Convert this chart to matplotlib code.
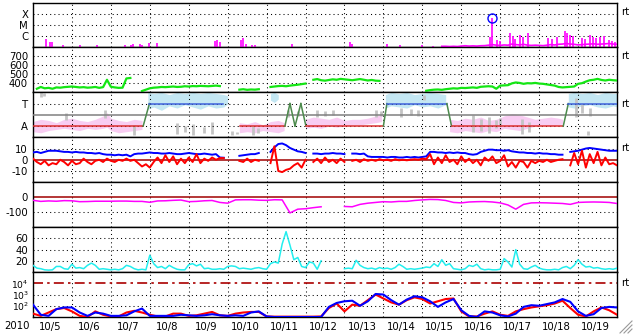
import numpy as np
import matplotlib
matplotlib.use("Agg")
import matplotlib.pyplot as plt
from matplotlib.lines import Line2D
from matplotlib.ticker import NullLocator
import matplotlib.transforms as mtransforms

nan = np.nan

# ---------------- data (time axis in days from left edge) ----------------
date_labels = ['10/5', '10/6', '10/7', '10/8', '10/9', '10/10', '10/11', '10/12',
               '10/13', '10/14', '10/15', '10/16', '10/17', '10/18', '10/19']
year_label = '2010'

# X-ray: isolated flare spikes (time, log10 flux) and background (log10 flux, 0.1 d)
flare_t = [0.33, 0.44, 0.49, 0.77, 1.21, 1.64, 2.36, 2.52, 2.57, 2.75, 2.80, 2.98, 3.19, 4.67, 4.73,
           4.80, 5.34, 5.39, 5.47, 5.63, 5.70, 6.65, 8.14, 8.19, 9.09, 9.43, 9.99, 10.27, 10.58, 11.74,
           11.79, 11.92, 12.0, 12.25, 12.33, 12.38, 12.51, 12.59, 12.72, 13.23, 13.33, 13.46, 13.67,
           13.72, 13.79, 13.87, 14.10, 14.18, 14.31, 14.38, 14.46, 14.56, 14.67, 14.80, 14.87, 14.95]
flare_log = [-6.24, -6.51, -6.51, -6.78, -6.78, -6.78, -6.78, -6.78, -6.69, -6.69, -6.74, -6.63, -6.6,
             -6.42, -6.33, -6.51, -6.33, -6.15, -6.69, -6.78, -6.78, -6.69, -6.51, -6.69, -6.69, -6.78,
             -6.78, -6.87, -6.87, -6.05, -4.42, -6.33, -6.42, -5.69, -5.96, -6.24, -5.87, -6.05, -5.69,
             -6.15, -6.24, -6.05, -5.51, -5.69, -5.87, -5.96, -6.15, -6.24, -5.87, -6.05, -6.15, -6.05,
             -5.96, -6.33, -6.42, -6.51]
flare_mark_t = [11.79]
flare_mark_log = [-4.42]
xray_bg_start = 9.9
xray_bg_log = [nan, -6.85, nan, nan, -6.88, nan, -6.9, -6.9, -6.92, -6.9, -6.92,
               -6.88, -6.85, -6.88, -6.86, -6.88, -6.85, -6.84, -6.8, -6.75, -6.8,
               -6.82, -6.78, -6.8, -6.7, -6.75, -6.78, -6.72, -6.8, -6.82, -6.8,
               -6.82, -6.84, -6.8, -6.75, -6.78, -6.72, -6.7, -6.65, -6.7, -6.72,
               -6.78, -6.75, -6.72, -6.7, -6.68, -6.72, -6.7, -6.68, -6.65, -6.7, -6.72]

# Solar wind speed (km/s), 0.1 d step
speed = [nan, 340, 360, 345, 350, 340, 355, 352, 358, 362,
         365, 360, 355, 358, 352, 355, 360, 350, 358, 440,
         362, 355, 350, 352, 455, 460, nan, nan, 315, 330,
         345, 352, 355, 360, 358, 362, 365, 360, 362, 368,
         365, 370, 368, 372, 370, 368, 372, 375, 370, nan,
         nan, nan, nan, 330, 335, 328, 332, 330, 335, nan,
         nan, 360, 365, 370, 372, 368, 375, 380, 385, 392,
         398, nan, 440, 448, 435, 430, 438, 445, 440, 450,
         445, 440, 435, 442, 448, 440, 432, 438, 430, 428,
         nan, nan, nan, nan, nan, nan, nan, nan, nan, nan,
         nan, 318, 325, 330, 332, 328, 335, 340, 345, 342,
         350, 348, 352, 355, 350, 362, 365, 368, 365, 340,
         375, 378, 380, 400, 410, 405, 395, 402, 400, 405,
         398, 395, 388, 382, 375, 360, 355, 358, 362, 365,
         395, 402, 420, 435, 440, 450, 438, 432, 440, 435,
         432]

# IMF sector (1 = Away, 3 = Toward)
sector_t = [0.0, 2.83, 2.99, 4.87, nan, 5.32, 6.47, 6.60, 6.73, 6.88, 7.01, 9.00, 9.09, 10.63,
            10.75, 13.62, 13.75, 15.0]
sector_v = [1, 1, 3, 3, nan, 1, 1, 3, 1, 3, 1, 1, 3, 3, 1, 1, 3, 3]

# phi angle scatter envelopes (panel units)
pink1_t = [0.0, 0.2, 0.4, 0.6, 0.8, 1.0, 1.2, 1.4, 1.6, 1.8, 1.9, 2.0, 2.2, 2.4, 2.6, 2.8]
pink1_lo = [0.5, 0.4, 0.6, 0.7, 0.8, 0.7, 0.6, 0.8, 0.7, 0.8, 0.9, 0.6, 0.4, 0.5, 0.6, 0.7]
pink1_hi = [1.4, 1.6, 1.5, 1.3, 1.6, 1.7, 1.5, 1.4, 1.6, 1.9, 2.2, 1.7, 1.5, 1.4, 1.6, 1.5]
pink2_t = [5.3, 5.5, 5.7, 5.9, 6.1, 6.3, 6.45]
pink2_lo = [0.4, 0.5, 0.4, 0.6, 0.5, 0.4, 0.6]
pink2_hi = [1.3, 1.2, 1.4, 1.1, 1.4, 1.5, 1.3]
pink3_t = [7.0, 7.2, 7.4, 7.6, 7.8, 8.0, 8.2, 8.4, 8.6, 8.8, 8.95]
pink3_lo = [0.8, 0.9, 0.8, 1.0, 0.9, 1.0, 1.1, 1.1, 1.2, 1.3, 1.4]
pink3_hi = [1.6, 1.8, 1.7, 1.6, 1.8, 1.5, 1.6, 1.6, 1.7, 1.9, 2.0]
pink4_t = [10.7, 10.9, 11.1, 11.3, 11.5, 11.7, 11.9, 12.1, 12.3, 12.5, 12.7, 12.9, 13.1, 13.3, 13.5, 13.6]
pink4_lo = [0.5, 0.4, 0.6, 0.5, 0.4, 0.6, 0.5, 0.8, 0.7, 0.6, 0.8, 1.0, 1.1, 1.0, 1.1, 1.2]
pink4_hi = [1.6, 1.5, 1.7, 1.6, 1.8, 1.5, 1.6, 1.9, 2.1, 2.0, 1.8, 1.6, 1.7, 1.8, 1.7, 1.6]
blue1_t = [2.95, 3.1, 3.3, 3.5, 3.7, 3.9, 4.1, 4.3, 4.5, 4.7, 4.9, 5.0]
blue1_lo = [2.5, 2.7, 2.4, 2.8, 2.6, 2.9, 2.7, 2.5, 2.8, 2.6, 2.7, 3.0]
blue1_hi = [4.0, 3.9, 4.0, 3.8, 4.0, 3.9, 4.0, 3.9, 4.0, 3.9, 3.8, 3.7]
blue2_t = [6.1, 6.2, 6.3]
blue2_lo = [3.3, 3.1, 3.4]
blue2_hi = [3.9, 4.0, 3.8]
blue3_t = [9.05, 9.2, 9.4, 9.6, 9.8, 10.0, 10.2, 10.4, 10.6]
blue3_lo = [2.6, 2.8, 2.7, 2.6, 2.9, 2.7, 2.8, 2.6, 2.9]
blue3_hi = [3.8, 4.0, 3.9, 4.0, 3.8, 3.9, 4.0, 3.9, 3.8]
blue4_t = [13.75, 13.9, 14.1, 14.3, 14.5, 14.7, 14.9, 15.0]
blue4_lo = [2.7, 2.6, 2.8, 2.9, 2.7, 2.6, 2.8, 2.7]
blue4_hi = [3.9, 4.0, 3.9, 4.0, 3.8, 4.0, 3.9, 3.9]
gray_t = [0.2, 0.28, 0.85, 1.85, 2.6, 3.7, 3.9, 4.1, 4.4, 4.6, 5.1, 5.25, 5.65, 5.78, 6.55, 6.8, 7.3,
          7.5, 7.7, 8.8, 8.95, 9.45, 9.7, 9.9, 10.05, 11.3, 11.5, 11.7, 11.9, 12.0, 12.55, 12.75,
          13.95, 14.1, 14.3, 14.25]
gray_lo = [3.6, 3.7, 1.5, 1.7, 0.2, 0.3, 0.5, 0.2, 0.4, 0.3, 0.2, 0.3, 0.2, 0.4, 1.8, 1.9, 1.8, 1.9,
           2.0, 1.8, 1.9, 1.8, 2.0, 1.9, 3.3, 0.5, 0.6, 0.4, 0.8, 1.0, 0.3, 0.5, 1.8, 2.2, 1.9, 0.2]
gray_hi = [4.0, 3.9, 2.2, 2.4, 1.1, 1.3, 1.0, 1.2, 0.9, 1.4, 0.6, 0.5, 1.0, 0.8, 2.4, 2.3, 2.4, 2.3,
           2.4, 2.4, 2.3, 2.6, 2.5, 2.4, 3.8, 2.0, 1.6, 1.8, 1.5, 1.7, 1.6, 1.4, 3.5, 3.0, 2.6, 0.6]

# IMF Bt and Bz (nT), 0.1 d step
bt = [6.5, 7, 6, 7, 8, 8, 8, 7.5, 7, 7,
      6.5, 7, 6.5, 6.5, 6, 6, 5.5, 6, 5, 4.5,
      4.5, 4, 4.5, 4, 4.5, 3, 5, 5.5, 5.5, 6,
      6.5, 6, 6, 5.5, 5.5, 6, 5.5, 5, 5, 5.5,
      6, 5.5, 5, 5, 5.5, 5, 4.5, 5, 2, 1.8,
      nan, nan, nan, 3.5, 4, 4.5, 5, 5, 6, nan,
      nan, 7, 11, 14, 14.5, 13, 10.5, 9, 7.5, 7,
      6, nan, 5.5, 5.5, 5, 5.5, 5.5, 6, 5.5, 5.5,
      5, nan, 5.5, 5.5, 5, 5.5, 3, 2.5, 2.5, 2.5,
      2.5, 2, 2.5, 2.5, 2, 2, 2.5, 2, 2.5, 2,
      2.5, 3, 7, 7, 6.5, 6.5, 6, 6.5, 6, 6.5,
      6, 6, 5, 4.5, 5, 7, 8, 9, 9, 8.5,
      8.5, 8, 8.5, 7.5, 7, 6.5, 6.5, 6, 6, 5.5,
      6, 5.5, 5.5, 5, 5, 4.5, 4.5, nan, 7, 7.5,
      8, 9, 10, 10.5, 10, 9.5, 9, 8.5, 8, 8,
      8]
bz = [1, -2, -4, -1, -5, -3, -4, 0, -2, -5,
      -1, -4, -3, 1, -2, -4, -1, 0, -2, 1,
      -1, -2, 0, -1, 1, -1, 0, -3, -6, -4,
      -7, -2, 2, -3, 4, -2, 3, -4, 1, -3,
      2, -2, 5, -3, 1, -1, 2, 0, 1.5, 1.5,
      nan, nan, nan, -1, -2, 1, -2, 0, -1, nan,
      nan, -3, 12, -10, -11, -9, -8, -5, -3, -7,
      0, nan, -2, 1, -3, 2, -2, 0, -3, 1,
      -2, nan, -1, 0, -2, 0.5, -1, 0, -1, 0.5,
      -0.5, 0, -1, 0.5, -0.5, 0, -0.5, 0, 0.5, 0,
      1, 0.5, 5, -4, 2, -3, 4, -2, 0, -4,
      3, -2, 1, -3, 0, -5, 2, -1, 3, -3,
      -1, 4, -6, -2, -7, -1, -2, -7, -1, -3,
      -1, -2, 0, -2, -1, 0, 0.5, nan, -5, 6,
      -4, 8, -7, 5, -3, 7, -5, 2, -4, -3,
      -5]

# Dst (nT), 0.2 d step
dst = [-21, -28, -25, -27, -23, -24, -30, -29, -27, -27,
       -27, -26, -26, -28, -28, -34, -25, -24, -21, -19,
       -30, -28, -24, -22, -35, -40, -18, -17, -17, -20,
       -21, -17, -18, -105, -80, -77, -70, -64, nan, nan,
       -62, -64, -48, -40, -35, -30, -32, -28, -28, -22,
       -18, -15, -16, -22, -35, -38, -32, -30, -29, -32,
       -38, -52, -80, -48, -38, -37, -38, -40, -42, -48,
       -35, -33, -32, -33, -35, -42]

# Proton density-like series (cyan), 0.1 d step
cyan = [12, 7, 6, 4, 3.5, 4, 10, 10, 6, 5,
        14, 7, 8, 6, 12, 16, 12, 5, 6, 5,
        4, 5, 4, 6, 12, 10, 6, 4, 5, 4,
        30, 15, 8, 10, 6, 12, 8, 5, 4, 4,
        13, 15, 11, 14, 6, 7, 5, 5, 6, 5,
        10, 11, 10, 6, 7, 6, 5, 7, 8, 6,
        5, 15, 18, 16, 50, 72, 48, 22, 26, 10,
        8, 18, 16, 5, 20, nan, nan, nan, nan, nan,
        6, 7, 6, 21, 12, 8, 6, 7, 5, 8,
        6, 7, 5, 8, 14, 10, 5, 6, 5, 6,
        7, 9, 8, 15, 10, 22, 12, 15, 6, 5,
        4, 6, 12, 10, 14, 6, 4, 5, 4, 4,
        5, 24, 18, 9, 40, 14, 6, 5, 9, 12,
        7, 5, 4, 4, 5, 4, 8, 10, 6, 12,
        22, 14, 9, 10, 7, 8, 6, 5, 6, 5,
        7]

# Electron flux, log10, 0.2 d step (two satellites)
elec_red_log = [1.3, 1.1, 1.4, 1.7, 1.8, 1.5, 1.1, 1.0, 1.5, 1.2,
                1.05, 1.05, 1.4, 1.55, 1.4, 1.2, 1.05, 1.05, 1.3, 1.3,
                1.1, 1.15, 1.3, 1.45, 1.15, 1.1, 1.3, 1.4, 1.45, 1.45,
                1.05, 1.03, 1.03, 1.03, 1.03, 1.03, 1.03, 1.05, 1.8, 2.2,
                1.5, 2.1, 2.0, 2.5, 3.0, 2.65, 2.3, 2.1, 2.5, 2.75,
                2.6, 2.2, 2.4, 2.6, 2.65, 1.5, 1.05, 1.05, 1.3, 1.5,
                1.2, 1.1, 1.5, 1.7, 1.85, 1.95, 2.05, 2.2, 2.45, 1.8,
                1.2, 1.05, 1.5, 1.85, 1.6, 1.2]
elec_blue_log = [2.1, 1.2, 1.1, 1.7, 1.85, 1.85, 1.4, 1.1, 1.4, 1.3,
                 1.1, 1.1, 1.15, 1.5, 1.75, 1.1, 1.1, 1.1, 1.1, 1.2,
                 1.15, 1.1, 1.15, 1.25, 1.15, 1.1, 1.15, 1.1, 1.4, 1.5,
                 1.05, 1.0, 1.0, 1.0, 1.0, 1.0, 1.0, 1.0, 1.9, 2.25,
                 2.4, 2.45, 2.0, 2.4, 3.05, 3.0, 2.5, 2.1, 2.55, 2.85,
                 2.75, 2.4, 1.9, 2.3, 2.6, 1.6, 1.1, 1.0, 1.5, 1.4,
                 1.15, 1.05, 1.3, 1.9, 2.05, 2.0, 2.15, 2.3, 2.6, 2.35,
                 1.5, 1.1, 1.25, 1.8, 1.9, 1.85]
elec_alert = 1e4

# ---------------- figure ----------------
W, H = 633, 334
plt.rcParams['font.family'] = ['DejaVu Sans']
FS = 7.3
fig = plt.figure(figsize=(W / 100, H / 100), dpi=100)
fig.patch.set_facecolor('white')

LEFT, RIGHT, TOP, BOT = 33, 617, 2.5, 317
ph = (BOT - TOP) / 7
DOT = (0, (1, 3))

axes = []
for k in range(7):
    y0 = TOP + k * ph
    ax = fig.add_axes([LEFT / W, 1 - (y0 + ph) / H, (RIGHT - LEFT) / W, ph / H])
    ax.set_xlim(0, 15)
    ax.set_xticks([])
    for s in ax.spines.values():
        s.set_linewidth(1.0)
        s.set_color('black')
    ax.tick_params(axis='y', length=0, pad=3.5, labelsize=FS)
    for d in range(1, 15):
        ax.axvline(d, color='black', lw=0.75, ls=DOT, zorder=2)
    axes.append(ax)

def hgrid(ax, levels):
    for v in levels:
        ax.axhline(v, color='black', lw=0.75, ls=DOT, zorder=2)

def rt(ax, y):
    tr = mtransforms.blended_transform_factory(ax.transAxes, ax.transData)
    ax.text(1.0 + 4.5 / (RIGHT - LEFT), y, 'rt', transform=tr, fontsize=FS,
            va='center', ha='left', clip_on=False)

MAG = '#ff00ff'

# Panel 1: X-ray
ax = axes[0]
ax.set_yscale('log')
ax.set_ylim(1e-7, 1e-3)
ax.yaxis.set_minor_locator(NullLocator())
ax.set_yticks([1e-4, 1e-5, 1e-6], ['X', 'M', 'C'])
hgrid(ax, [1e-4, 1e-5, 1e-6])
ax.vlines(flare_t, 1e-7, 10 ** np.array(flare_log), color=MAG, lw=1.2, zorder=3)
bg_t = xray_bg_start + 0.1 * np.arange(len(xray_bg_log))
ax.plot(bg_t, 10 ** np.array(xray_bg_log), color=MAG, lw=1.2, zorder=3)
ax.plot(flare_mark_t, 10 ** np.array(flare_mark_log), 'o', mfc='none', mec='#0000ff',
        ms=6.5, mew=1.0, zorder=4, clip_on=False)
rt(ax, 1e-4 * 1.3)

# Panel 2: speed
ax = axes[1]
ax.set_ylim(300, 800)
ax.set_yticks([400, 500, 600, 700], ['400', '500', '600', '700'])
hgrid(ax, [400, 500, 600, 700])
t01 = 0.1 * np.arange(len(speed))
ax.plot(t01, speed, color='#14e614', lw=1.6, zorder=3)
rt(ax, 700)

# Panel 3: sector / phi
ax = axes[2]
ax.set_ylim(0, 4)
ax.set_yticks([3, 1], ['T', 'A'])
PINK = '#f8cdf2'
LBLUE = '#c4e7f3'
for tt, lo, hi in [(pink1_t, pink1_lo, pink1_hi), (pink2_t, pink2_lo, pink2_hi),
                   (pink3_t, pink3_lo, pink3_hi), (pink4_t, pink4_lo, pink4_hi)]:
    ax.fill_between(tt, lo, hi, color=PINK, lw=0, zorder=1)
for tt, lo, hi in [(blue1_t, blue1_lo, blue1_hi), (blue2_t, blue2_lo, blue2_hi),
                   (blue3_t, blue3_lo, blue3_hi), (blue4_t, blue4_lo, blue4_hi)]:
    ax.fill_between(tt, lo, hi, color=LBLUE, lw=0, zorder=1)
ax.vlines(gray_t, gray_lo, gray_hi, color='#c4c4c4', lw=2.0, zorder=1.5)
hgrid(ax, [1, 3])
ax.axhline(2, color='#808080', lw=1.1, zorder=3)
for i in range(len(sector_t) - 1):
    v0, v1 = sector_v[i], sector_v[i + 1]
    if np.isnan(v0) or np.isnan(v1):
        continue
    if v0 == 1 and v1 == 1:
        c = '#dd3030'
    elif v0 == 3 and v1 == 3:
        c = '#3f63dd'
    else:
        c = '#4c8a4c'
    ax.plot(sector_t[i:i + 2], sector_v[i:i + 2], color=c, lw=1.1, zorder=4)
rt(ax, 3)

# Panel 4: Bt / Bz
ax = axes[3]
ax.set_ylim(-20, 20)
ax.set_yticks([10, 0, -10], ['10', '0', '-10'])
hgrid(ax, [10, -10])
ax.axhline(0, color='#a00000', lw=1.1, zorder=2.5)
ax.plot(t01[:len(bt)], bt, color='#0000ff', lw=1.4, zorder=3)
ax.plot(t01[:len(bz)], bz, color='#ff0000', lw=1.4, zorder=3.5)
rt(ax, 10.5)

# Panel 5: Dst
ax = axes[4]
ax.set_ylim(-200, 100)
ax.set_yticks([0, -100], ['0', '-100'])
hgrid(ax, [-100])
ax.axhline(0, color='#a00000', lw=1.1, zorder=2.5)
t02 = 0.2 * np.arange(len(dst))
ax.plot(t02, dst, color=MAG, lw=1.1, zorder=3)

# Panel 6: cyan
ax = axes[5]
ax.set_ylim(0, 80)
ax.set_yticks([60, 40, 20], ['60', '40', '20'])
hgrid(ax, [20, 40, 60])
ax.plot(t01[:len(cyan)], cyan, color='#22eeee', lw=1.1, zorder=3)

# Panel 7: electrons
ax = axes[6]
ax.set_yscale('log')
ax.set_ylim(10, 1e5)
ax.yaxis.set_minor_locator(NullLocator())
ax.set_yticks([1e4, 1e3, 1e2], [r'$10^4$', r'$10^3$', r'$10^2$'])
ax.tick_params(axis='y', labelsize=6.6, pad=3.0)
hgrid(ax, [1e3, 1e2])
ax.axhline(elec_alert, color='#aa0000', lw=1.2, ls=(0, (6, 2.5, 1.5, 2.5)), zorder=2.5)
te = 0.2 * np.arange(len(elec_red_log))
ax.plot(te, 10 ** np.array(elec_red_log), color='#ff0000', lw=1.5, zorder=3)
ax.plot(te, 10 ** np.array(elec_blue_log), color='#0000ff', lw=1.5, zorder=3.5)
ax.set_xticks(np.arange(len(date_labels)) + 0.45, date_labels)
ax.tick_params(axis='x', length=0, pad=3.5, labelsize=FS)
rt(ax, 1e4)

fig.text(17 / W, 1 - 326 / H, year_label, fontsize=FS, ha='center', va='center')

# window resize grip at bottom-right
for (x0, y0, x1, y1) in [(620, 333, 632, 321), (624, 333, 632, 325), (628, 333, 632, 329)]:
    fig.add_artist(Line2D([x0 / W, x1 / W], [1 - y0 / H, 1 - y1 / H], color='#999999',
                          lw=0.8, transform=fig.transFigure))

fig.savefig('out.png', dpi=100, facecolor='white')
